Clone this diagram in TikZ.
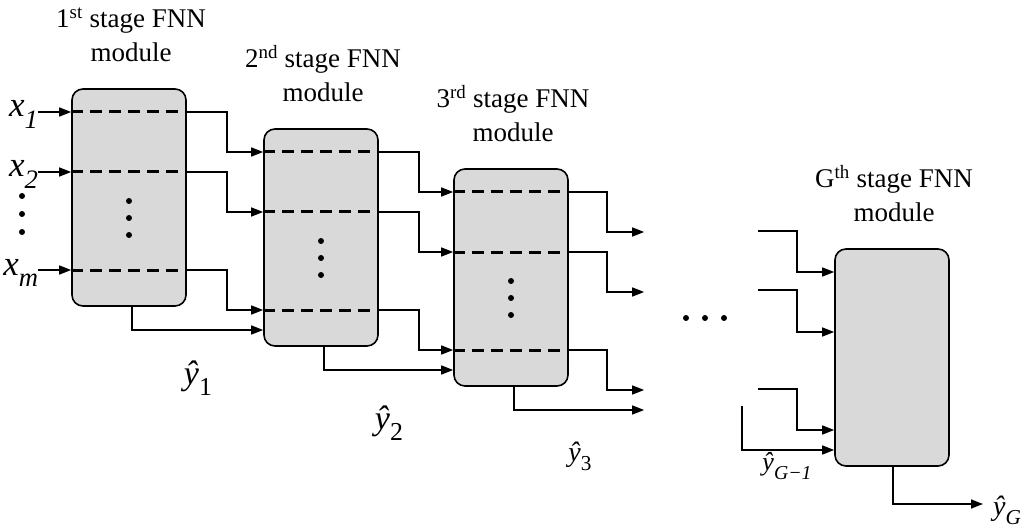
\documentclass[tikz,border=0pt]{standalone}
\usepackage{fontspec}
\setmainfont{Liberation Serif}
\usepackage{graphicx}
\usetikzlibrary{arrows.meta, positioning, calc}
\definecolor{modgray}{RGB}{217,217,217}

% indice abaixado
\newcommand{\idx}[1]{\raisebox{-0.32em}{\scalebox{0.76}{\upshape #1}}}

\tikzset{
    module/.style={draw, line width=1.6pt, fill=modgray, rounded corners=11pt,
        minimum width=114pt, minimum height=217pt, inner sep=0pt},
    link/.style={line width=1.4pt, -{Triangle[length=12pt, width=9pt]}},
    hidden/.style={line width=3pt, dash pattern=on 12pt off 7pt},
    stagelab/.style={font=\fontsize{27}{34}\selectfont, align=center, inner sep=0pt},
    inlab/.style={font=\fontsize{35}{35}\selectfont\itshape, inner sep=0pt},
    outlab/.style={font=\fontsize{34}{34}\selectfont\itshape, inner sep=0pt},
}

\begin{document}
\begin{tikzpicture}[x=1pt, y=-1pt]
    \useasboundingbox (0,0) rectangle (1029,532);

    % Modulos
    \foreach \i/\cx/\cy in {1/129/197.5, 2/321/237.5, 3/511/277.5, G/892/357.5}
        \node[module] (m\i) at (\cx,\cy) {};

    % Portas de cada modulo
    \foreach \i in {1,2,3,G} {
        \coordinate (wa\i) at ([yshift=85.5pt]m\i.west);
        \coordinate (wb\i) at ([yshift=25.5pt]m\i.west);
        \coordinate (wc\i) at ([yshift=-72.5pt]m\i.west);
        \coordinate (wd\i) at ([yshift=-92.5pt]m\i.west);
        \coordinate (ea\i) at ([yshift=85.5pt]m\i.east);
        \coordinate (eb\i) at ([yshift=25.5pt]m\i.east);
        \coordinate (ec\i) at ([yshift=-72.5pt]m\i.east);
    }

    % Rotulos dos estagios
    \node[stagelab, above=26pt of m1, xshift=2pt] (s1) {1\textsuperscript{st} stage FNN\\module};
    \node[stagelab, above=26pt of m2, xshift=2pt] (s2) {2\textsuperscript{nd} stage FNN\\module};
    \node[stagelab, above=26pt of m3, xshift=2pt] (s3) {3\textsuperscript{rd} stage FNN\\module};
    \node[stagelab, above=26pt of mG, xshift=2pt] (sG) {G\textsuperscript{th} stage FNN\\module};

    % Entradas x
    \foreach \r/\t in {a/1, b/2, c/m} {
        \node[inlab, anchor=base east] (x\t) at ([xshift=-33pt, yshift=-5pt]w\r1) {x\idx{\itshape\t}};
        \draw[link] (x\t.east |- w\r1) -- (w\r1);
    }
    \foreach \y in {196, 214, 232}
        \fill (22,\y) circle (3pt);

    % Linhas tracejadas e pontos internos
    \foreach \i in {1,2,3} {
        \foreach \r in {a,b,c}
            \draw[hidden] (w\r\i) -- (e\r\i);
        \foreach \d in {0,1,2}
            \fill ([yshift={-3.5pt-17pt*\d}]m\i.center) circle (3pt);
    }

    % Ligacoes entre estagios
    \foreach \i/\j in {1/2, 2/3} {
        \foreach \r in {a,b,c}
            \draw[link] (e\r\i) -- ++(40,0) |- (w\r\j);
        \draw[link] ([xshift=3pt]m\i.south) |- (wd\j);
    }

    % Saidas do 3o estagio
    \foreach \r in {a,b,c} {
        \coordinate (o\r) at ($(w\r3)+(191,40)$);
        \draw[link] (e\r3) -- ++(38,0) |- (o\r);
    }
    \coordinate (od) at ($(wd3)+(191,40)$);
    \draw[link] ([xshift=3pt]m3.south) |- (od);

    % Reticencias
    \foreach \x in {686, 705, 724}
        \fill (\x,318) circle (3pt);

    % Entradas do G-esimo estagio
    \foreach \r/\x/\y in {a/758/231, b/758/290, c/758/389} {
        \coordinate (g\r) at (\x,\y);
        \draw[link] (g\r) -- ++(39,0) |- (w\r G);
    }
    \coordinate (gd) at (742,406);
    \draw[link] (gd) |- (wdG);

    % Saida final
    \coordinate (fin) at (983,504);
    \draw[link] ([xshift=1pt]mG.south) |- (fin);

    % Estimativas
    \node[outlab] (y1) at (198,378) {ŷ\idx{1}};
    \node[outlab] (y2) at (389,423) {ŷ\idx{2}};
    \node[outlab, font=\fontsize{28}{28}\selectfont\itshape] (y3) at (580,456) {ŷ\idx{3}};
    \node[outlab, font=\fontsize{26}{26}\selectfont\itshape] (yG1) at (787,466) {ŷ\idx{\itshape G−1}};
    \node[outlab, font=\fontsize{28}{28}\selectfont\itshape, anchor=west] (yG) at ([xshift=10pt, yshift=-6pt]fin) {ŷ\idx{\itshape G}};
\end{tikzpicture}
\end{document}
